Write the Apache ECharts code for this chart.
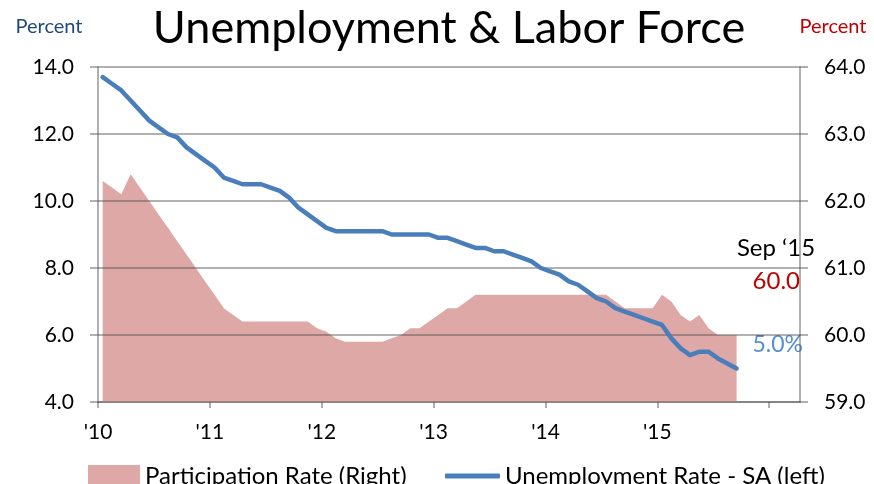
<!DOCTYPE html>
<html>
<head>
<meta charset="utf-8">
<script src="https://cdn.jsdelivr.net/npm/echarts@6/dist/echarts.min.js"></script>
<style>
  html, body { margin: 0; padding: 0; background: #fff; }
  #chart { width: 874px; height: 484px; }
</style>
</head>
<body>
<div id="chart"></div>
<script>
// monthly, Jan 2010 .. Sep 2015
const yearLabels = ["'10", "'11", "'12", "'13", "'14", "'15"]
const unemployment = [
  13.7, 13.5, 13.3, 13.0, 12.7, 12.4, 12.2, 12.0, 11.9, 11.6, 11.4, 11.2,
  11.0, 10.7, 10.6, 10.5, 10.5, 10.5, 10.4, 10.3, 10.1, 9.8, 9.6, 9.4,
  9.2, 9.1, 9.1, 9.1, 9.1, 9.1, 9.1, 9.0, 9.0, 9.0, 9.0, 9.0,
  8.9, 8.9, 8.8, 8.7, 8.6, 8.6, 8.5, 8.5, 8.4, 8.3, 8.2, 8.0,
  7.9, 7.8, 7.6, 7.5, 7.3, 7.1, 7.0, 6.8, 6.7, 6.6, 6.5, 6.4,
  6.3, 5.9, 5.6, 5.4, 5.5, 5.5, 5.3, 5.15, 5.0
]
const participation = [
  62.3, 62.2, 62.1, 62.4, 62.2, 62.0, 61.8, 61.6, 61.4, 61.2, 61.0, 60.8,
  60.6, 60.4, 60.3, 60.2, 60.2, 60.2, 60.2, 60.2, 60.2, 60.2, 60.2, 60.1,
  60.05, 59.95, 59.9, 59.9, 59.9, 59.9, 59.9, 59.95, 60.0, 60.1, 60.1, 60.2,
  60.3, 60.4, 60.4, 60.5, 60.6, 60.6, 60.6, 60.6, 60.6, 60.6, 60.6, 60.6,
  60.6, 60.6, 60.6, 60.6, 60.6, 60.6, 60.6, 60.5, 60.4, 60.4, 60.4, 60.4,
  60.6, 60.5, 60.3, 60.2, 60.3, 60.1, 60.0, 60.0, 60.0
]
const leftTicks = [4, 14, 2]
const rightTicks = [59, 64, 1]

const FONT = 'Lato'
const gridColor = 'rgba(80,80,80,0.6)'

const myChart = echarts.init(document.getElementById('chart'))

// point i sits in the middle of its month
const toPoints = arr => arr.map((v, i) => [i + 0.5, v])

const option = {
  animation: false,
  textStyle: { fontFamily: FONT },
  grid: { left: 98, right: 74, top: 67, bottom: 82 },
  xAxis: {
    type: 'value',
    min: 0,
    max: 75.3,
    interval: 12,
    axisLine: { lineStyle: { color: gridColor, width: 1.5 } },
    axisTick: { show: true, length: 6, lineStyle: { color: gridColor, width: 1.5 } },
    splitLine: { show: false },
    axisLabel: {
      margin: 20,
      fontSize: 21,
      color: '#000',
      fontFamily: FONT,
      showMaxLabel: false,
      formatter: v => (v % 12 === 0 && yearLabels[v / 12]) ? yearLabels[v / 12] : ''
    }
  },
  yAxis: [
    {
      type: 'value',
      position: 'left',
      min: leftTicks[0],
      max: leftTicks[1],
      interval: leftTicks[2],
      z: 2,
      axisLine: { show: true, lineStyle: { color: gridColor, width: 1.5 } },
      axisTick: { show: true, length: 8, lineStyle: { color: gridColor, width: 1.5 } },
      splitLine: { show: true, lineStyle: { color: gridColor, width: 1.5 } },
      axisLabel: { margin: 24, fontSize: 21, color: '#000', fontFamily: FONT, formatter: v => v.toFixed(1) }
    },
    {
      type: 'value',
      position: 'right',
      min: rightTicks[0],
      max: rightTicks[1],
      interval: rightTicks[2],
      axisLine: { show: true, lineStyle: { color: gridColor, width: 1.5 } },
      axisTick: { show: true, length: 8, lineStyle: { color: gridColor, width: 1.5 } },
      splitLine: { show: false },
      axisLabel: { margin: 24, fontSize: 21, color: '#000', fontFamily: FONT, formatter: v => v.toFixed(1) }
    }
  ],
  legend: [
    {
      left: 83, top: 459,
      itemWidth: 52, itemHeight: 22,
      textStyle: { fontSize: 24, color: '#000', fontFamily: FONT },
      data: [{ name: 'Participation Rate (Right)', icon: 'rect' }]
    },
    {
      left: 440, top: 459,
      itemWidth: 55, itemHeight: 5,
      textStyle: { fontSize: 24, color: '#000', fontFamily: FONT },
      data: [{ name: 'Unemployment Rate - SA (left)', icon: 'roundRect' }]
    }
  ],
  series: [
    {
      name: 'Participation Rate (Right)',
      type: 'line',
      yAxisIndex: 1,
      z: 1,
      data: toPoints(participation),
      showSymbol: false,
      symbol: 'none',
      color: '#dea8a7',
      lineStyle: { width: 0 },
      areaStyle: { color: '#dea8a7', opacity: 1, origin: 'start' }
    },
    {
      name: 'Unemployment Rate - SA (left)',
      type: 'line',
      yAxisIndex: 0,
      z: 3,
      data: toPoints(unemployment),
      showSymbol: false,
      symbol: 'none',
      color: '#4a7ebb',
      lineStyle: { width: 4.5, color: '#4a7ebb', cap: 'round', join: 'round' }
    }
  ],
  graphic: [
    { type: 'text', x: 449, y: 28, style: { text: 'Unemployment & Labor Force', fontSize: 45, fontFamily: FONT, fill: '#000', align: 'center', verticalAlign: 'middle' } },
    { type: 'text', x: 49, y: 27, style: { text: 'Percent', fontSize: 20, fontFamily: FONT, fill: '#1f497d', align: 'center', verticalAlign: 'middle' } },
    { type: 'text', x: 833, y: 27, style: { text: 'Percent', fontSize: 20, fontFamily: FONT, fill: '#c00000', align: 'center', verticalAlign: 'middle' } },
    { type: 'text', x: 776, y: 248, style: { text: 'Sep \u201815', fontSize: 24, fontFamily: FONT, fill: '#000', align: 'center', verticalAlign: 'middle' } },
    { type: 'text', x: 800, y: 281, style: { text: '60.0', fontSize: 24, fontFamily: FONT, fill: '#c00000', align: 'right', verticalAlign: 'middle' } },
    { type: 'text', x: 803, y: 345, style: { text: '5.0%', fontSize: 23, fontFamily: FONT, fill: '#558ed5', align: 'right', verticalAlign: 'middle' } }
  ]
}

option && myChart.setOption(option)
</script>
</body>
</html>
